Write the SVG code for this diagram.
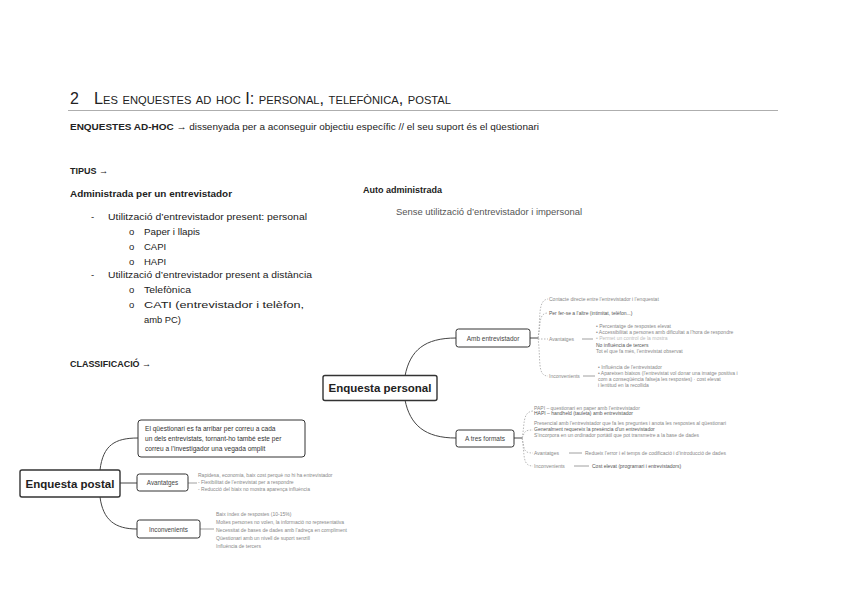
<svg xmlns="http://www.w3.org/2000/svg" width="848" height="599" viewBox="0 0 848 599">
<style>
text{font-family:"Liberation Sans",Arial,sans-serif;fill:#222}
.b{font-weight:bold}
.body{font-size:9.5px}
.sm{font-size:5px;fill:#888}
.smd{font-size:5px;fill:#555}
.box{fill:#fff;stroke:#333;stroke-width:1}
.root{fill:#fff;stroke:#333;stroke-width:1.4}
.main{fill:none;stroke:#444;stroke-width:1}
.dash{fill:none;stroke:#999;stroke-width:0.7;stroke-dasharray:1.5 1.5}
.thin{fill:none;stroke:#888;stroke-width:0.8}
</style>
<rect width="848" height="599" fill="#fff"/>
<!-- header -->
<text x="70" y="104" style="font-size:16px">2</text>
<text x="94" y="104" style="font-size:16px;font-variant:small-caps" textLength="357" lengthAdjust="spacingAndGlyphs">Les enquestes ad hoc I: personal, telefònica, postal</text>
<line x1="68" y1="110.5" x2="778" y2="110.5" stroke="#999" stroke-width="0.8"/>
<text x="70" y="130" class="body" textLength="469" lengthAdjust="spacingAndGlyphs"><tspan class="b">ENQUESTES AD-HOC</tspan> → dissenyada per a aconseguir objectiu específic // el seu suport és el qüestionari</text>
<text x="70" y="174" class="body b" textLength="38" lengthAdjust="spacingAndGlyphs">TIPUS →</text>
<text x="70" y="197" class="body b" textLength="162" lengthAdjust="spacingAndGlyphs">Administrada per un entrevistador</text>
<text x="91" y="220" class="body">-</text>
<text x="108" y="220" class="body" textLength="199" lengthAdjust="spacingAndGlyphs">Utilització d’entrevistador present: personal</text>
<text x="129" y="235" class="body">o</text><text x="144" y="235" class="body" textLength="56" lengthAdjust="spacingAndGlyphs">Paper i llapis</text>
<text x="129" y="250" class="body">o</text><text x="144" y="250" class="body">CAPI</text>
<text x="129" y="265" class="body">o</text><text x="144" y="265" class="body">HAPI</text>
<text x="91" y="278" class="body">-</text>
<text x="108" y="278" class="body" textLength="204" lengthAdjust="spacingAndGlyphs">Utilització d’entrevistador present a distància</text>
<text x="129" y="293" class="body">o</text><text x="144" y="293" class="body" textLength="47" lengthAdjust="spacingAndGlyphs">Telefònica</text>
<text x="129" y="308" class="body">o</text><text x="144" y="308" class="body" textLength="160" lengthAdjust="spacingAndGlyphs">CATI   (entrevistador   i   telèfon,</text>
<text x="144" y="323" class="body" textLength="37" lengthAdjust="spacingAndGlyphs">amb PC)</text>
<text x="70" y="367" class="body b" textLength="81" lengthAdjust="spacingAndGlyphs">CLASSIFICACIÓ →</text>
<text x="363" y="193" class="body b" textLength="79" lengthAdjust="spacingAndGlyphs">Auto administrada</text>
<text x="396" y="215" class="body" style="fill:#555" textLength="186" lengthAdjust="spacingAndGlyphs">Sense utilització d’entrevistador i impersonal</text>

<!-- connectors -->
<g id="connectors">
<path class="main" d="M405,376 C410,350 425,338 456,338"/>
<path class="main" d="M405,400 C410,425 425,438 456,438"/>
<line class="main" x1="530" y1="338" x2="538" y2="338"/>
<line class="main" x1="514" y1="438" x2="522" y2="438"/>
<path class="main" d="M100,470 C103,445 115,438 138,438"/>
<line class="main" x1="120" y1="483" x2="137" y2="483"/>
<path class="main" d="M100,497 C103,520 115,529 137,529"/>
<!-- personal amb dashed -->
<path class="dash" d="M538,338 C541,320 537,300 548,299"/>
<path class="dash" d="M538,338 C541,325 538,313 548,313"/>
<line class="dash" x1="538" y1="339" x2="548" y2="339"/>
<path class="dash" d="M538,338 C541,360 537,376 548,376"/>
<line class="thin" x1="582" y1="339" x2="593" y2="339" stroke="#666"/>
<line class="thin" x1="583" y1="376" x2="595" y2="376" stroke="#666"/>
<!-- tres formats dashed -->
<path class="dash" d="M522,438 C525,425 522,412 533,411"/>
<path class="dash" d="M522,438 C525,432 524,430 533,430"/>
<path class="dash" d="M522,438 C525,448 522,453 533,453"/>
<path class="dash" d="M522,438 C525,455 522,466 533,466"/>
<line class="thin" x1="569" y1="453" x2="582" y2="453" stroke="#666"/>
<line class="thin" x1="574" y1="466" x2="589" y2="466"/>
<!-- postal -->
<line class="thin" x1="188" y1="483" x2="197" y2="483"/>
<line class="thin" x1="200" y1="529" x2="214" y2="529"/>
</g>

<!-- personal -->
<g id="enquesta-personal">
<rect class="root" x="323" y="375.5" width="114" height="25" rx="2"/>
<text x="380" y="392" text-anchor="middle" class="b" style="font-size:11.5px">Enquesta personal</text>
</g>
<g id="amb-entrevistador">
<rect class="box" x="456" y="329" width="74" height="18" rx="2.5"/>
<text x="493" y="340.5" text-anchor="middle" style="font-size:6.5px;fill:#444">Amb entrevistador</text>
</g>
<g id="amb-children">
<text x="549" y="301" class="sm">Contacte directe entre l’entrevistador i l’enquestat</text>
<text x="549" y="315" class="smd">Per fer-se a l’altre (intimitat, telèfon...)</text>
<text x="549" y="341" class="sm">Avantatges</text>
<text x="596" y="328" class="sm">• Percentatge de respostes elevat</text>
<text x="596" y="334" class="sm">• Accessibilitat a persones amb dificultat a l’hora de respondre</text>
<text x="596" y="340" class="sm" style="fill:#bbb">• Permet un control de la mostra</text>
<text x="596" y="347" class="smd">No influència de tercers</text>
<text x="596" y="353" class="sm">Tot el que fa més, l’entrevistat observat</text>
<text x="549" y="378" class="sm">Inconvenients</text>
<text x="598" y="369" class="sm">• Influència de l’entrevistador</text>
<text x="598" y="375" class="sm">• Apareixen biaixos (l’entrevistat vol donar una imatge positiva i</text>
<text x="598" y="381" class="sm">com a conseqüència falseja les respostes) · cost elevat</text>
<text x="598" y="387" class="sm">i lentitud en la recollida</text>
</g>
<g id="a-tres-formats">
<rect class="box" x="456" y="430" width="58" height="17" rx="2.5"/>
<text x="485" y="441" text-anchor="middle" style="font-size:6.5px;fill:#444">A tres formats</text>
</g>
<g id="formats-children">
<text x="534" y="410" class="sm">PAPI – questionari en paper amb l’entrevistador</text>
<text x="534" y="415" class="smd">HAPI – handheld (tauleta) amb entrevistador</text>
<text x="534" y="425" class="sm">Presencial amb l’entrevistador que fa les preguntes i anota les respostes al qüestionari</text>
<text x="534" y="431" class="smd">Generalment requereix la presència d’un entrevistador</text>
<text x="534" y="437" class="sm">S’incorpora en un ordinador portàtil que pot transmetre a la base de dades</text>
<text x="534" y="455" class="sm">Avantatges</text>
<text x="585" y="455" class="sm">Redueix l’error i el temps de codificació i d’introducció de dades</text>
<text x="534" y="468" class="sm">Inconvenients</text>
<text x="592" y="468" class="smd">Cost elevat (programari i entrevistadors)</text>
</g>

<!-- postal -->
<g id="enquesta-postal">
<rect class="root" x="20" y="470" width="100" height="27" rx="2"/>
<text x="70" y="487.5" text-anchor="middle" class="b" style="font-size:11.5px">Enquesta postal</text>
</g>
<g id="postal-descripcio">
<rect class="box" x="138" y="420" width="167" height="37" rx="3"/>
<text x="145" y="431" style="font-size:6.6px;fill:#333">El qüestionari es fa arribar per correu a cada</text>
<text x="145" y="441" style="font-size:6.6px;fill:#333">un dels entrevistats, tornant-ho també este per</text>
<text x="145" y="451" style="font-size:6.6px;fill:#333">correu a l’investigador una vegada omplit</text>
</g>
<g id="avantatges">
<rect class="box" x="137" y="474" width="51" height="17" rx="2.5"/>
<text x="162.5" y="485" text-anchor="middle" style="font-size:6.3px;fill:#444">Avantatges</text>
<text x="198" y="477" class="sm">Rapidesa, economia, baix cost perquè no hi ha entrevistador</text>
<text x="198" y="484" class="sm">- Flexibilitat de l’entrevistat per a respondre</text>
<text x="198" y="491" class="sm">- Reducció del biaix no mostra aparença influència</text>
</g>
<g id="inconvenients">
<rect class="box" x="137" y="520" width="63" height="18" rx="2.5"/>
<text x="168.5" y="531.5" text-anchor="middle" style="font-size:6.3px;fill:#444">Inconvenients</text>
<text x="216" y="516" class="sm">Baix índex de respostes (10-15%)</text>
<text x="216" y="524" class="sm">Moltes persones no volen, la informació no representativa</text>
<text x="216" y="532" class="sm">Necessitat de bases de dades amb l’adreça en compliment</text>
<text x="216" y="540" class="sm">Qüestionari amb un nivell de suport senzill</text>
<text x="216" y="548" class="sm">Influència de tercers</text>
</g>
</svg>
